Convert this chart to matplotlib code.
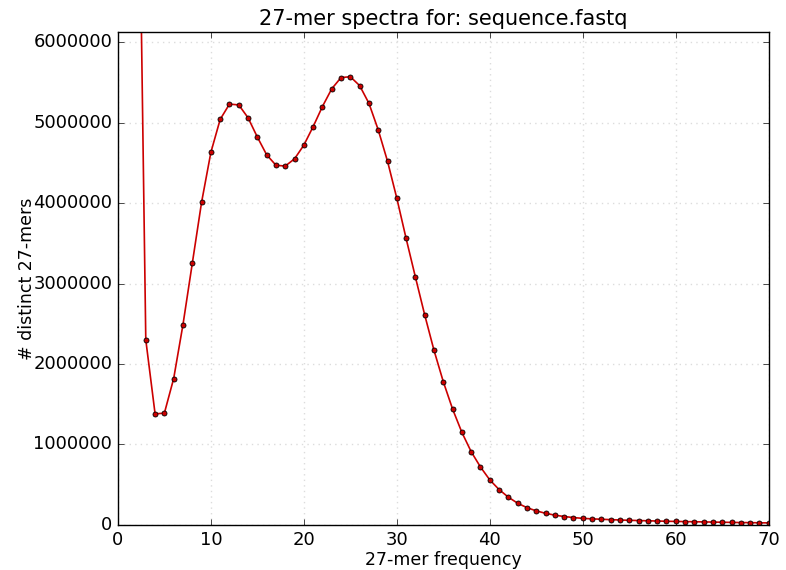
import matplotlib
matplotlib.use("Agg")
import matplotlib.pyplot as plt
from matplotlib.ticker import ScalarFormatter

# k-mer frequency (x) and number of distinct k-mers (y)
freq = list(range(2, 72))
counts = [
    10500000, 2300000, 1380000, 1390000, 1820000, 2490000, 3250000, 4010000,
    4630000, 5040000, 5230000, 5220000, 5060000, 4820000, 4600000, 4470000,
    4460000, 4550000, 4720000, 4950000, 5200000, 5420000, 5560000, 5570000,
    5460000, 5240000, 4910000, 4520000, 4060000, 3560000, 3080000, 2610000,
    2170000, 1780000, 1440000, 1150000, 910000, 720000, 560000, 440000,
    345000, 270000, 215000, 175000, 145000, 122000, 105000, 92000,
    82000, 76000, 71000, 66000, 62000, 58000, 55000, 52000,
    49000, 46000, 44000, 42000, 40000, 38000, 36000, 34000,
    32000, 30000, 29000, 27000, 26000, 25000,
]

title = "27-mer spectra for: sequence.fastq"
xlabel = "27-mer frequency"
ylabel = "# distinct 27-mers"


def main():
    plt.style.use("classic")
    fig = plt.figure(figsize=(7.86, 5.7), dpi=100, facecolor="white")
    ax = fig.add_axes([0.150, 0.079, 0.828, 0.865])

    ax.plot(freq, counts, color="#cc0000", linewidth=1.2, marker="o",
            markersize=3.6, markerfacecolor="#cc0000", markeredgecolor="black",
            markeredgewidth=0.6)

    ax.set_xlim(0, 70)
    ax.set_ylim(0, 1.1 * max(counts[5:]))

    fmt = ScalarFormatter(useOffset=False)
    fmt.set_scientific(False)
    ax.yaxis.set_major_formatter(fmt)

    ax.grid(True, color="#dcdcdc", linestyle=":", linewidth=1)
    ax.set_axisbelow(True)
    ax.tick_params(labelsize=13)

    ax.set_title(title, fontsize=15)
    ax.set_xlabel(xlabel, fontsize=12.5, labelpad=2)
    ax.set_ylabel(ylabel, fontsize=12.5, labelpad=-2)

    fig.savefig("out.png", dpi=100, facecolor="white")


if __name__ == "__main__":
    main()
